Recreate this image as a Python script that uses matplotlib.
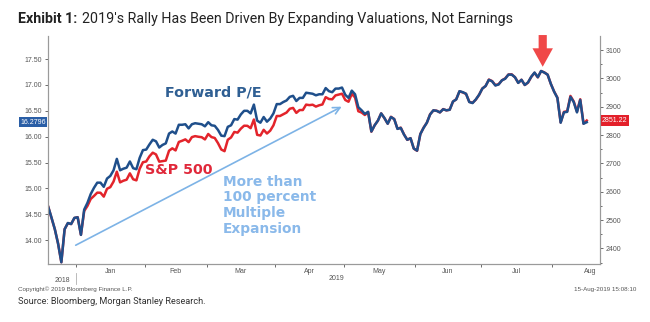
import numpy as np
import pandas as pd
import matplotlib
matplotlib.use('Agg')
import matplotlib.pyplot as plt
from matplotlib import transforms

# trading days shown on the chart (Dec 18 2018 - Aug 15 2019)
holidays = ['2018-12-25', '2019-01-01', '2019-01-21', '2019-02-18',
            '2019-04-19', '2019-05-27', '2019-07-04']
dates = pd.bdate_range('2018-12-18', '2019-08-15', freq='C', holidays=holidays)

spx = [2546.16, 2506.96, 2467.42, 2416.62, 2351.10, 2467.70, 2488.83, 2485.74, 2506.85,
       2510.03, 2447.89, 2531.94, 2549.69, 2574.41, 2584.96, 2596.64, 2596.26, 2582.61, 2610.30,
       2616.10, 2635.96, 2670.71, 2632.90, 2638.70, 2642.33, 2664.76, 2643.85, 2640.00, 2681.05, 2704.10,
       2706.53, 2724.87, 2737.70, 2731.61, 2706.05, 2707.88, 2709.80, 2744.73, 2753.03, 2745.73,
       2775.60, 2779.76, 2784.70, 2774.88, 2792.67, 2796.11, 2793.90, 2792.38, 2784.49,
       2803.69, 2792.81, 2789.65, 2771.45, 2748.93, 2743.07, 2783.30, 2791.52, 2810.92, 2808.48,
       2822.48, 2832.94, 2832.57, 2824.23, 2854.88, 2800.71, 2798.36, 2818.46, 2805.37, 2815.44, 2834.40,
       2867.19, 2867.24, 2873.40, 2879.39, 2892.74, 2895.77, 2878.20, 2888.21, 2888.32, 2907.41,
       2905.58, 2907.06, 2900.45, 2905.03, 2907.97, 2933.68, 2927.25, 2926.17, 2939.88, 2943.03, 2945.83,
       2923.73, 2917.52, 2945.64, 2932.47, 2884.05, 2879.42, 2870.72, 2881.40, 2811.87, 2834.41,
       2850.96, 2876.32, 2859.53, 2840.23, 2864.36, 2856.27, 2822.24, 2826.06, 2802.39, 2783.02,
       2788.86, 2752.06,
       2744.45, 2803.27, 2826.15, 2843.49, 2873.34, 2886.73, 2885.72, 2879.84, 2891.64, 2886.98,
       2889.67, 2917.75, 2926.46, 2954.18, 2950.46, 2945.35, 2917.38, 2913.78, 2924.92, 2941.76,
       2964.33, 2973.01, 2995.82, 2990.41, 2975.95, 2979.63, 2993.07, 2999.91, 3013.77, 3014.30,
       3004.04, 2984.42, 2995.11, 2976.61, 2985.03, 3005.47, 3019.56, 3003.67, 3025.86, 3020.97,
       3013.18, 2980.38,
       2953.56, 2932.05, 2844.74, 2881.77, 2883.98, 2938.09, 2918.65, 2882.70, 2926.32, 2840.60, 2851.22]

pe = [14.64, 14.43, 14.21, 13.93, 13.57, 14.21, 14.33, 14.31, 14.43,
      14.44, 14.10, 14.59, 14.72, 14.89, 15.01, 15.11, 15.11, 15.03, 15.19, 15.24, 15.35, 15.57,
      15.35, 15.38, 15.40, 15.52, 15.39, 15.37, 15.59, 15.74,
      15.75, 15.85, 15.94, 15.91, 15.79, 15.84, 15.87, 16.06, 16.10, 16.06, 16.23, 16.23, 16.24,
      16.16, 16.24, 16.26, 16.25, 16.24, 16.20,
      16.28, 16.22, 16.21, 16.13, 16.02, 16.01, 16.19, 16.22, 16.34, 16.33, 16.43, 16.50, 16.50,
      16.45, 16.62, 16.31, 16.27, 16.38, 16.29, 16.35, 16.45,
      16.63, 16.63, 16.67, 16.70, 16.77, 16.79, 16.69, 16.75, 16.75, 16.85, 16.84, 16.83, 16.80,
      16.82, 16.82, 16.94, 16.88, 16.86, 16.93, 16.93, 16.95,
      16.81, 16.75, 16.89, 16.82, 16.57, 16.51, 16.44, 16.48, 16.10, 16.22, 16.31, 16.45, 16.36,
      16.25, 16.38, 16.34, 16.15, 16.17, 16.04, 15.94, 15.97, 15.77,
      15.73, 16.05, 16.17, 16.27, 16.43, 16.51, 16.50, 16.47, 16.53, 16.51, 16.52, 16.68, 16.72,
      16.88, 16.86, 16.83, 16.67, 16.65, 16.72, 16.81,
      16.93, 16.98, 17.10, 17.07, 16.99, 17.01, 17.09, 17.12, 17.20, 17.20, 17.15, 17.04, 17.10,
      17.00, 17.05, 17.16, 17.24, 17.15, 17.27, 17.24, 17.20, 17.02,
      16.87, 16.75, 16.27, 16.47, 16.48, 16.77, 16.67, 16.47, 16.71, 16.25, 16.2796]

pe_ticks = [14.0, 14.5, 15.0, 15.5, 16.0, 16.5, 17.0, 17.5]
spx_ticks = [2400, 2500, 2600, 2700, 2800, 2900, 3000, 3100]

BLUE = '#1f4f8b'
RED = '#e3242b'
GREY = '#555555'
HEAD = 'Roboto'

x = np.arange(len(dates))

fig = plt.figure(figsize=(6.5, 3.22), dpi=100)
ax = fig.add_axes([0.0738, 0.180, 0.849, 0.708])
ax2 = ax.twinx()
ax.set_zorder(ax2.get_zorder() + 1)
ax.patch.set_visible(False)

ax2.plot(x, spx, color=RED, lw=1.8, solid_joinstyle='round')
ax.plot(x, pe, color=BLUE, lw=1.8, solid_joinstyle='round')

ax.set_xlim(-0.1, 169)
ax.set_ylim(13.536, 17.946)
ax2.set_ylim(2344.6, 3149.4)

ax.set_yticks(pe_ticks)
ax.set_yticklabels(['%.2f' % v for v in pe_ticks])
ax2.set_yticks(spx_ticks)
ax2.set_yticks(np.arange(2350, 3150, 50), minor=True)

# month ticks: boundaries get small marks, labels sit mid-month
bounds = [i - 0.5 for i in range(1, len(dates)) if dates[i].month != dates[i - 1].month]
mids = [(bounds[k] + bounds[k + 1]) / 2 for k in range(len(bounds) - 1)] + [bounds[-1] + 11.5]
names = [dates[int(b + 0.5)].strftime('%b') for b in bounds]
ax.set_xticks(mids)
ax.set_xticklabels(names)
ax.set_xticks(bounds, minor=True)

for a in (ax, ax2):
    a.spines['top'].set_visible(False)
    for s in ('left', 'right', 'bottom'):
        a.spines[s].set_color('#9a9a9a')
        a.spines[s].set_linewidth(0.8)
    a.tick_params(which='both', labelsize=5, colors=GREY, width=0.6, length=2.5, pad=1.5)
    for lab in a.get_xticklabels() + a.get_yticklabels():
        lab.set_fontfamily('Liberation Sans')
ax.tick_params(axis='x', which='major', length=0, pad=3)
ax2.tick_params(axis='y', which='minor', length=1.5)

# year labels under the month axis
fig.text(62 / 650, 1 - 280 / 322, '2018', fontsize=5, color=GREY, ha='center', va='center',
         family='Liberation Sans')
fig.text(336 / 650, 1 - 279 / 322, '2019', fontsize=5, color=GREY, ha='center', va='center',
         family='Liberation Sans')
fig.add_artist(plt.Line2D([76 / 650, 76 / 650], [1 - 273 / 322, 1 - 284 / 322],
                          color='#b0b0b0', lw=0.6))

# last value tags
tl = transforms.blended_transform_factory(ax.transAxes, ax.transData)
ax.text(-0.004, pe[-1], '%.4f' % pe[-1], transform=tl, ha='right', va='center', fontsize=5,
        color='white', family='Liberation Sans',
        bbox=dict(boxstyle='square,pad=0.25', fc='#2a5ea6', ec='none'), clip_on=False)
tr = transforms.blended_transform_factory(ax2.transAxes, ax2.transData)
ax2.text(1.004, spx[-1], '%.2f' % spx[-1], transform=tr, ha='left', va='center', fontsize=5,
         color='white', family='Liberation Sans',
         bbox=dict(boxstyle='square,pad=0.25', fc='#e3202a', ec='none'), clip_on=False)

# annotations
ax.text(0.212, 0.754, 'Forward P/E', transform=ax.transAxes, fontsize=10.3, weight='bold',
        color='#2f5f93', va='center', ha='left')
ax.text(0.176, 0.412, 'S&P 500', transform=ax.transAxes, fontsize=10.3, weight='bold',
        color='#e0283a', va='center', ha='left')
ax.text(0.317, 0.392, 'More than\n100 percent\nMultiple\nExpansion', transform=ax.transAxes,
        fontsize=9.9, weight='bold', color='#8ab9ea', va='top', ha='left', linespacing=1.16)
ax.annotate('', xy=(89.9, 16.58), xytext=(8.4, 13.90),
            arrowprops=dict(arrowstyle='->,head_length=0.5,head_width=0.25', color='#7db3e6',
                            lw=1.2, shrinkA=0, shrinkB=0))
ax2.annotate('', xy=(151.5, 3041), xytext=(151.5, 3153), annotation_clip=False,
             arrowprops=dict(arrowstyle='simple,head_length=0.95,head_width=1.05,tail_width=0.42',
                             mutation_scale=14, color='#f04848', shrinkA=0, shrinkB=0, lw=0))

# title, footer (font size chosen so the line spans the same width as the original)
renderer = fig.canvas.get_renderer()
title_y = 1 - 19 / 322
size = 11.0
for _ in range(3):
    t1 = fig.text(18 / 650, title_y, 'Exhibit 1:', fontsize=size, weight='bold', family=HEAD,
                  va='center', ha='left', color='#222222')
    bb = t1.get_window_extent(renderer)
    t2 = fig.text((bb.x1 + 0.5 * size) / 650, title_y,
                  "2019's Rally Has Been Driven By Expanding Valuations, Not Earnings",
                  fontsize=size, family=HEAD, va='center', ha='left', color='#222222')
    right = t2.get_window_extent(renderer).x1
    if abs(right - 515) < 2:
        break
    t1.remove()
    t2.remove()
    size = size * (515 - 18) / (right - 18)

src = fig.text(18 / 650, 1 - 302 / 322, 'Source: Bloomberg, Morgan Stanley Research.',
               fontsize=7.5, color='#333333', family=HEAD, va='center')
w = src.get_window_extent(renderer).width
src.set_fontsize(7.5 * (207 - 18) / w)

fig.text(18 / 650, 1 - 289 / 322, 'Copyright\u00a9 2019 Bloomberg Finance L.P.', fontsize=4.5,
         color=GREY, family='Liberation Sans', va='center')
fig.text(636 / 650, 1 - 289 / 322, '15-Aug-2019 15:08:10', fontsize=4.5, color=GREY,
         family='Liberation Sans', va='center', ha='right')

fig.savefig('out.png', dpi=100)
